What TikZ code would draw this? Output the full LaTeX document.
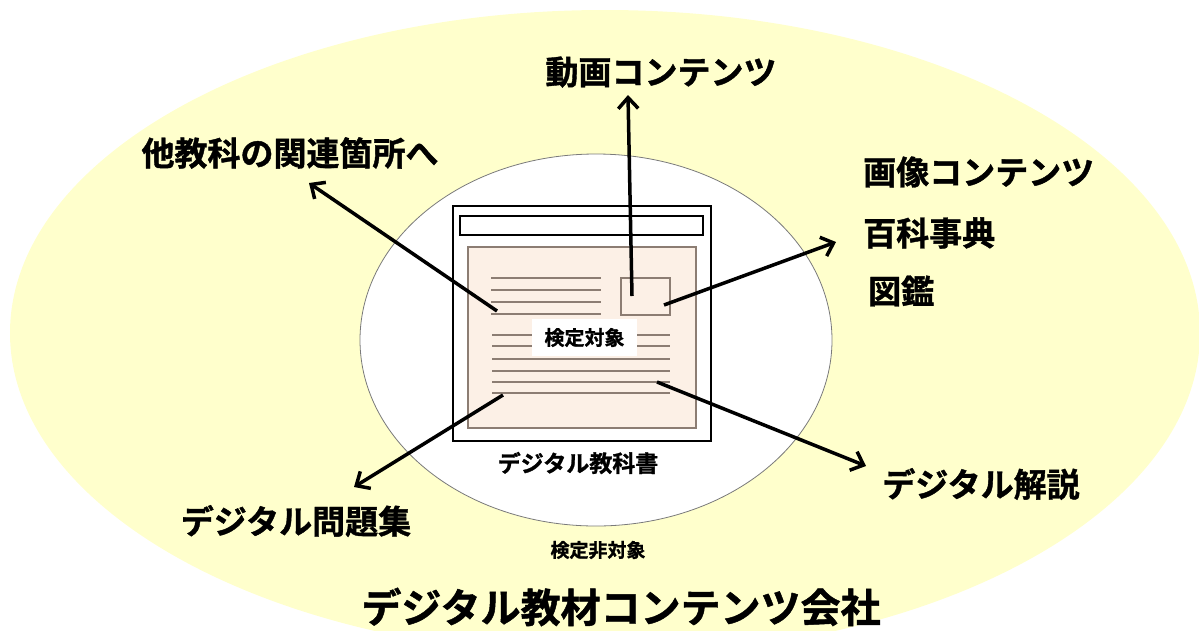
\documentclass[tikz,border=0pt]{standalone}
\usepackage{fontspec}
\setmainfont{Noto Sans CJK JP Bold}[FakeBold=1.2]
\usetikzlibrary{arrows.meta}
\definecolor{outeryellow}{HTML}{FFFFCC}
\definecolor{pagepink}{HTML}{FCF0E6}
\definecolor{linebrown}{HTML}{8C7D73}
\definecolor{rimgray}{HTML}{7A7A7A}
\tikzset{
  lbl/.style={inner sep=0pt, font=\fontsize{33}{36}\selectfont},
  midlbl/.style={inner sep=0pt, font=\fontsize{23}{26}\selectfont},
  smalllbl/.style={inner sep=0pt, font=\fontsize{19}{22}\selectfont},
  biglbl/.style={inner sep=0pt, font=\fontsize{40}{44}\selectfont},
  linkarrow/.style={line width=3.5pt, -{Straight Barb[length=11pt, width=20pt, line width=3.5pt]}},
  textline/.style={draw=linebrown, line width=2pt},
  pagebox/.style={draw=linebrown, line width=1.5pt},
}
\begin{document}
\begin{tikzpicture}[x=1pt, y=-1pt]
\useasboundingbox (0,0) rectangle (1199,630);
% outer company ellipse
\fill[outeryellow] (605,333) ellipse [x radius=595, y radius=323];
% inner textbook ellipse
\filldraw[fill=white, draw=rimgray, line width=0.8pt] (596,340) ellipse [x radius=236, y radius=186];
% window
\draw[fill=white, line width=1.5pt] (453,206) rectangle (711,441);
\draw[line width=1.5pt] (460,216) rectangle (703,235);
\draw[pagebox, fill=pagepink] (468,247) rectangle (696,428);
\draw[pagebox] (621,278) rectangle (670,315);
% text lines
\foreach \yy in {278,290,302,314} \draw[textline] (491,\yy) -- (601,\yy);
\foreach \yy in {335,346,359,371,382,393} \draw[textline] (492,\yy) -- (670,\yy);
\node[font=\fontsize{20}{23}\selectfont, inner sep=0pt, fill=white, minimum width=105pt, minimum height=37pt] (kentei) at (584.5,337.5) {検定対象};
% labels
\node[lbl] (douga) at (661,72) {動画コンテンツ};
\node[lbl] (takyouka) at (290,153) {他教科の関連箇所へ};
\node[lbl, anchor=west] (gazou) at (863,172) {画像コンテンツ};
\node[lbl, anchor=west] (hyakka) at (863,233) {百科事典};
\node[lbl, anchor=west] (zukan) at (868,291) {図鑑};
\node[lbl] (kaisetsu) at (981,484) {デジタル解説};
\node[lbl] (mondai) at (296,521) {デジタル問題集};
\node[midlbl] (kyoukasho) at (578,463) {デジタル教科書};
\node[smalllbl] (hitaishou) at (598,550) {検定非対象};
\node[biglbl] (kaisha) at (621,607) {デジタル教材コンテンツ会社};
% arrow anchors
\coordinate (sVideo) at (632,296);
\coordinate (tVideo) at (628,95);
\coordinate (sLink) at (497,311);
\coordinate (tLink) at (309,183);
\coordinate (sImage) at (664,305);
\coordinate (tImage) at (836,242);
\coordinate (sExpl) at (657,382);
\coordinate (tExpl) at (866,466);
\coordinate (sDrill) at (503,395);
\coordinate (tDrill) at (354,487);
\draw[linkarrow] (sVideo) -- (tVideo);
\draw[linkarrow] (sLink) -- (tLink);
\draw[linkarrow] (sImage) -- (tImage);
\draw[linkarrow] (sExpl) -- (tExpl);
\draw[linkarrow] (sDrill) -- (tDrill);
\end{tikzpicture}
\end{document}
